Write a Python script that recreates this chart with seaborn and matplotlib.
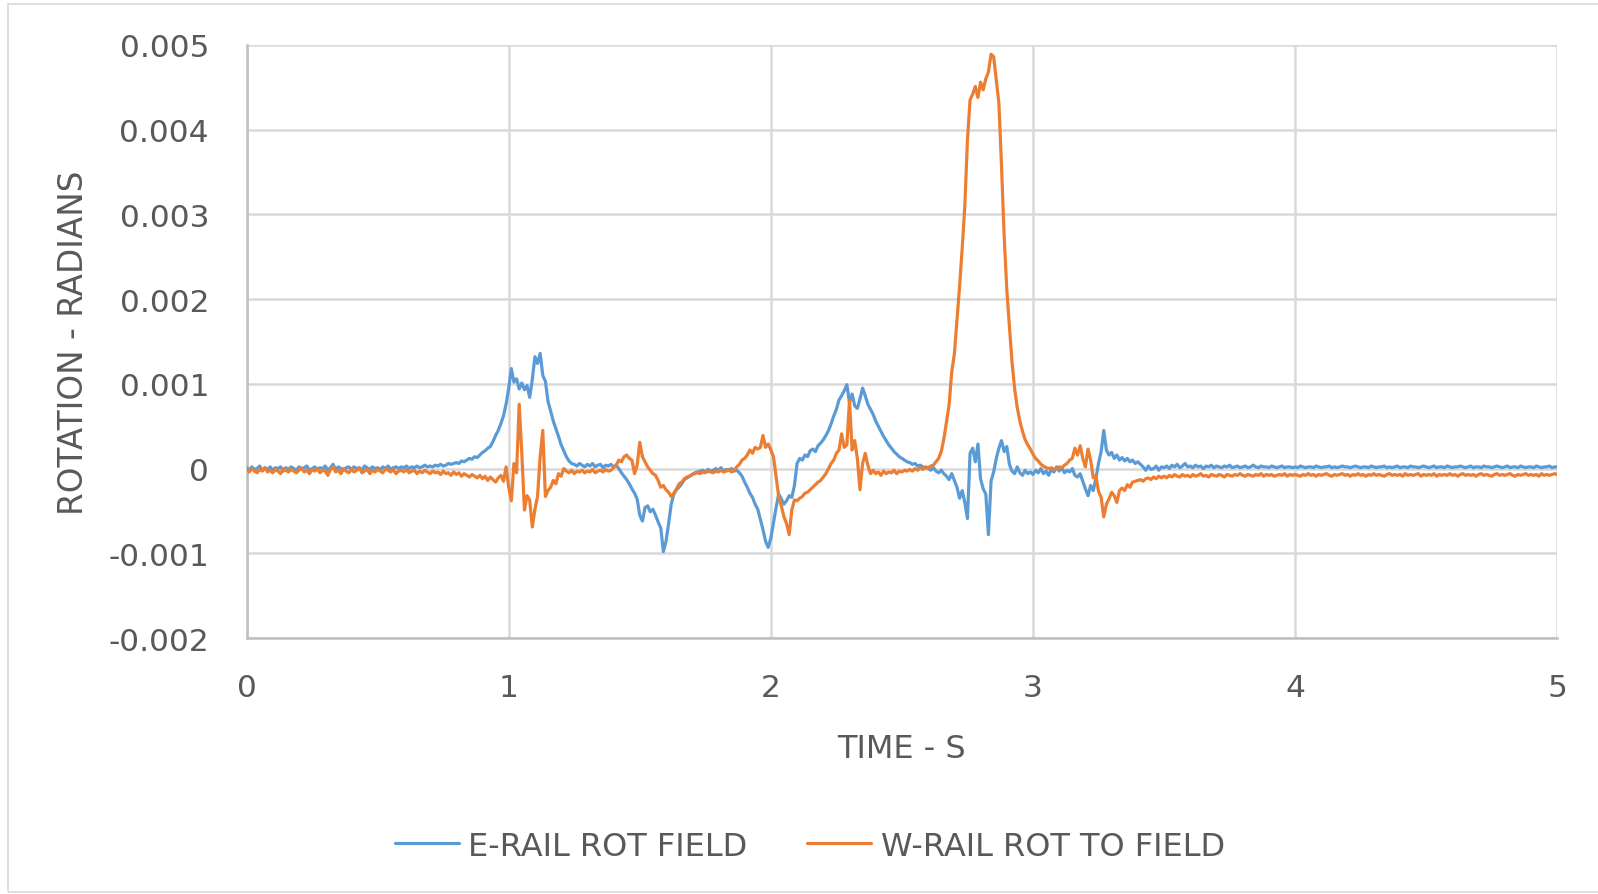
import numpy as np
import pandas as pd
import matplotlib
matplotlib.use("Agg")
import matplotlib.pyplot as plt
import seaborn as sns
from matplotlib.patches import Rectangle
from matplotlib.lines import Line2D

# ---- data (rotation in units of 1e-4 rad, sampled every 0.01 s from 0 to 5 s) ----
series_names = ["E-RAIL ROT FIELD", "W-RAIL ROT TO FIELD"]
x_ticks = [0, 1, 2, 3, 4, 5]
y_ticks = [-0.002, -0.001, 0, 0.001, 0.002, 0.003, 0.004, 0.005]
y_tick_labels = ["-0.002", "-0.001", "0", "0.001", "0.002", "0.003", "0.004", "0.005"]

e_rail = [
    0.1, -0.2, 0.2, -0.1, 0.0, 0.3, -0.2, 0.1, -0.1, 0.2,
    -0.2, 0.1, 0.0, 0.2, -0.3, 0.1, -0.1, 0.2, 0.0, -0.2,
    0.2, -0.1, 0.1, 0.3, -0.2, 0.0, 0.2, -0.1, 0.1, 0.0,
    0.3, -0.2, 0.1, 0.5, -0.1, 0.2, 0.0, -0.2, 0.1, 0.2,
    -0.1, 0.2, 0.0, 0.1, -0.2, 0.3, 0.1, -0.1, 0.2, 0.0,
    0.1, -0.1, 0.2, 0.0, 0.3, -0.1, 0.1, 0.2, 0.0, 0.2,
    0.1, 0.3, 0.0, 0.2, 0.1, 0.3, 0.1, 0.2, 0.4, 0.2,
    0.3, 0.2, 0.4, 0.3, 0.5, 0.3, 0.4, 0.6, 0.5, 0.6,
    0.7, 0.6, 0.9, 0.8, 1.0, 1.2, 1.1, 1.4, 1.3, 1.6,
    1.9, 2.1, 2.4, 2.6, 3.2, 3.9, 4.5, 5.3, 6.2, 7.6,
    9.5, 11.8, 10.2, 10.6, 9.4, 10.1, 9.3, 9.8, 8.4, 10.5,
    13.2, 12.4, 13.6, 11.0, 10.3, 7.9, 6.8, 5.6, 4.7, 3.8,
    2.8, 2.1, 1.4, 0.9, 0.6, 0.5, 0.3, 0.6, 0.4, 0.2,
    0.5, 0.3, 0.6, 0.2, 0.4, 0.5, 0.1, 0.4, 0.3, 0.5,
    0.2, 0.4, 0.0, -0.5, -0.9, -1.3, -1.8, -2.4, -2.9, -3.6,
    -5.5, -6.2, -4.6, -4.4, -5.1, -4.8, -5.5, -6.3, -7.0, -9.8,
    -8.6, -6.5, -4.2, -3.0, -2.5, -2.2, -1.8, -1.3, -1.1, -0.9,
    -0.7, -0.5, -0.4, -0.3, -0.2, -0.4, -0.1, -0.3, -0.2, 0.0,
    -0.2, 0.1, -0.3, -0.1, -0.2, 0.0, -0.3, -0.2, -0.5, -0.9,
    -1.6, -2.2, -2.9, -3.4, -4.2, -4.8, -6.0, -7.2, -8.6, -9.3,
    -8.2, -6.4, -4.6, -3.0, -3.6, -4.2, -3.8, -3.2, -3.4, -2.0,
    0.6, 1.2, 1.0, 1.6, 1.4, 2.1, 2.3, 2.0, 2.7, 3.0,
    3.4, 3.9, 4.5, 5.3, 6.2, 7.0, 8.1, 8.6, 9.2, 9.9,
    7.8, 8.8, 7.4, 7.1, 8.2, 9.5, 8.6, 7.6, 7.0, 6.4,
    5.6, 5.0, 4.4, 3.8, 3.3, 2.8, 2.4, 2.0, 1.7, 1.4,
    1.2, 1.0, 0.8, 0.7, 0.5, 0.6, 0.3, 0.4, 0.2, 0.1,
    0.0, -0.2, 0.1, -0.3, -0.5, -0.2, -0.6, -0.9, -1.3, -0.6,
    -1.4, -2.2, -3.5, -2.6, -4.0, -5.9, 1.8, 2.4, 0.8, 2.9,
    -1.2, -2.4, -3.0, -7.8, -1.5, -0.4, 1.2, 2.4, 3.3, 2.0,
    2.6, 0.5, -0.3, -0.6, 0.2, -0.5, -0.8, -0.2, -0.6, -0.4,
    -0.7, -0.2, -0.5, 0.0, -0.6, -0.3, -0.8, -0.1, -0.4, 0.2,
    -0.3, 0.1, -0.5, -0.2, -0.4, 0.0, -0.8, -1.0, -0.6, -1.5,
    -2.4, -3.2, -2.0, -2.6, -1.2, 0.6, 2.0, 4.5, 2.2, 1.6,
    1.9, 1.2, 1.6, 1.0, 1.3, 0.9, 1.2, 0.8, 1.0, 0.6,
    0.8, 0.5, 0.2, -0.2, 0.3, -0.1, 0.0, 0.3, -0.2, 0.2,
    0.1, 0.3, 0.0, 0.4, 0.2, 0.5, 0.1, 0.3, 0.6, 0.2,
    0.3, 0.1, 0.4, 0.2, 0.3, 0.0, 0.3, 0.2, 0.4, 0.1,
    0.3, 0.2, 0.1, 0.3, 0.2, 0.4, 0.1, 0.2, 0.3, 0.1,
    0.2, 0.3, 0.1, 0.2, 0.4, 0.2, 0.1, 0.3, 0.2, 0.2,
    0.1, 0.3, 0.2, 0.1, 0.2, 0.3, 0.1, 0.2, 0.2, 0.1,
    0.2, 0.1, 0.3, 0.2, 0.1, 0.2, 0.2, 0.1, 0.3, 0.2,
    0.1, 0.2, 0.2, 0.3, 0.1, 0.2, 0.1, 0.2, 0.3, 0.2,
    0.2, 0.1, 0.2, 0.3, 0.2, 0.1, 0.2, 0.2, 0.1, 0.3,
    0.2, 0.1, 0.2, 0.2, 0.3, 0.1, 0.2, 0.1, 0.2, 0.3,
    0.1, 0.2, 0.2, 0.1, 0.3, 0.2, 0.2, 0.1, 0.2, 0.3,
    0.2, 0.1, 0.2, 0.3, 0.1, 0.2, 0.2, 0.1, 0.3, 0.2,
    0.1, 0.2, 0.2, 0.3, 0.2, 0.1, 0.2, 0.3, 0.1, 0.2,
    0.2, 0.1, 0.3, 0.2, 0.2, 0.1, 0.2, 0.3, 0.2, 0.1,
    0.2, 0.3, 0.1, 0.2, 0.2, 0.1, 0.3, 0.2, 0.1, 0.2,
    0.2, 0.1, 0.3, 0.2, 0.1, 0.2, 0.2, 0.3, 0.1, 0.2, 0.2,
]

w_rail = [
    -0.1, -0.4, 0.0, -0.3, -0.5, -0.1, -0.3, 0.1, -0.4, -0.2,
    -0.5, -0.1, -0.3, -0.6, 0.0, -0.2, -0.4, -0.1, -0.3, -0.5,
    -0.2, 0.1, -0.4, -0.2, -0.6, -0.1, -0.3, 0.0, -0.5, -0.2,
    -0.3, -0.8, -0.1, 0.2, -0.4, -0.2, -0.6, 0.0, -0.3, -0.5,
    -0.1, -0.4, -0.2, 0.1, -0.5, -0.3, -0.1, -0.6, -0.2, -0.4,
    -0.1, -0.3, -0.5, 0.0, -0.2, -0.4, -0.1, -0.6, -0.3, -0.2,
    -0.4, -0.1, -0.5, -0.3, -0.2, -0.6, -0.3, -0.5, -0.2, -0.4,
    -0.6, -0.3, -0.5, -0.4, -0.7, -0.3, -0.6, -0.5, -0.8, -0.4,
    -0.7, -0.5, -0.9, -0.6, -0.8, -1.0, -0.7, -0.9, -1.1, -0.8,
    -1.2, -0.9, -1.4, -1.0, -1.3, -1.6, -1.1, -0.8, -1.5, 0.2,
    -2.2, -3.8, 0.6, -0.5, 7.6, 1.8, -4.9, -3.2, -3.7, -6.9,
    -4.8, -3.3, 1.4, 4.5, -3.3, -2.6, -2.2, -1.4, -1.8, -0.6,
    -0.9, 0.0, -0.3, -0.5, -0.2, -0.6, -0.3, -0.4, -0.2, -0.5,
    -0.3, -0.4, -0.1, -0.5, -0.3, -0.2, -0.4, -0.1, -0.3, -0.2,
    0.1, 0.4, 1.0, 0.8, 1.4, 1.6, 1.2, 1.0, -0.6, 0.4,
    3.1, 1.4, 0.8, 0.2, -0.2, -0.6, -0.8, -1.4, -2.2, -2.0,
    -2.5, -2.8, -3.3, -2.9, -2.4, -1.8, -1.6, -1.2, -1.0, -0.9,
    -0.7, -0.6, -0.5, -0.6, -0.4, -0.5, -0.3, -0.4, -0.5, -0.3,
    -0.4, -0.2, -0.4, -0.3, -0.1, -0.4, -0.2, 0.2, 0.5, 1.0,
    1.2, 1.6, 2.2, 1.8, 2.5, 2.3, 2.5, 3.9, 2.5, 2.9,
    2.2, 1.4, -1.0, -3.3, -4.4, -5.7, -6.5, -7.8, -4.9, -3.7,
    -3.8, -3.5, -3.3, -2.9, -2.8, -2.5, -2.2, -1.9, -1.6, -1.4,
    -1.0, -0.6, 0.0, 0.6, 1.0, 1.8, 2.2, 4.1, 2.5, 2.8,
    8.0, 2.2, 3.3, 1.2, -2.5, 0.6, 1.8, 0.4, -0.6, -0.2,
    -0.6, -0.4, -0.8, -0.3, -0.6, -0.4, -0.5, -0.2, -0.6, -0.3,
    -0.4, -0.2, -0.3, -0.1, -0.3, 0.0, -0.2, 0.1, -0.1, 0.2,
    0.1, 0.3, 0.4, 0.8, 1.2, 2.0, 3.5, 5.5, 7.5, 11.4,
    13.5, 17.5, 21.5, 26.0, 31.0, 38.8, 43.5, 44.2, 45.1, 43.8,
    45.6, 44.7, 46.0, 46.8, 48.9, 48.6, 45.9, 43.1, 35.7, 27.5,
    21.2, 16.8, 12.6, 9.4, 7.2, 5.6, 4.4, 3.4, 2.8, 2.3,
    1.7, 1.2, 0.9, 0.5, 0.3, 0.1, 0.0, 0.1, -0.1, 0.0,
    0.2, 0.1, 0.4, 0.6, 1.0, 1.2, 2.4, 1.6, 2.7, 1.2,
    0.2, 2.3, 1.0, -1.1, -0.8, -2.7, -3.4, -5.7, -4.2, -3.6,
    -2.8, -3.2, -4.0, -2.6, -2.3, -2.6, -1.9, -2.2, -1.6, -1.5,
    -1.4, -1.3, -1.5, -1.2, -1.1, -1.3, -1.0, -1.2, -0.9, -1.1,
    -0.9, -1.1, -0.8, -1.0, -0.7, -0.9, -1.0, -0.7, -0.9, -0.8,
    -1.0, -0.7, -0.9, -0.8, -0.6, -0.9, -0.8, -1.0, -0.7, -0.8,
    -0.9, -0.7, -0.8, -1.0, -0.7, -0.8, -0.9, -0.7, -0.8, -0.6,
    -0.8, -0.9, -0.7, -0.8, -0.9, -0.7, -0.8, -0.6, -0.9, -0.7,
    -0.8, -0.7, -0.9, -0.8, -0.7, -0.8, -0.6, -0.9, -0.7, -0.8,
    -0.7, -0.8, -0.9, -0.7, -0.8, -0.6, -0.8, -0.7, -0.9, -0.7,
    -0.8, -0.7, -0.6, -0.8, -0.9, -0.7, -0.8, -0.7, -0.6, -0.8,
    -0.7, -0.9, -0.7, -0.8, -0.6, -0.8, -0.7, -0.9, -0.7, -0.8,
    -0.6, -0.8, -0.7, -0.8, -0.9, -0.7, -0.6, -0.8, -0.7, -0.8,
    -0.7, -0.9, -0.6, -0.8, -0.7, -0.8, -0.7, -0.6, -0.9, -0.7,
    -0.8, -0.7, -0.8, -0.6, -0.9, -0.7, -0.8, -0.7, -0.8, -0.6,
    -0.8, -0.7, -0.9, -0.7, -0.6, -0.8, -0.7, -0.8, -0.7, -0.9,
    -0.7, -0.6, -0.8, -0.7, -0.8, -0.9, -0.7, -0.6, -0.8, -0.7,
    -0.8, -0.7, -0.6, -0.8, -0.9, -0.7, -0.8, -0.7, -0.6, -0.8,
    -0.7, -0.8, -0.7, -0.9, -0.6, -0.8, -0.7, -0.8, -0.7, -0.6, -0.7,
]

df = pd.DataFrame({
    "time": np.concatenate([np.round(np.arange(len(e_rail)) * 0.01, 2),
                            np.round(np.arange(len(w_rail)) * 0.01, 2)]),
    "rot": np.concatenate([np.array(e_rail), np.array(w_rail)]) * 1e-4,
    "series": [series_names[0]] * len(e_rail) + [series_names[1]] * len(w_rail),
})

# ---- style ----
sns.set_theme(style="white")
plt.rcParams["font.family"] = ["DejaVu Sans"]
text_color = "#595959"
grid_color = "#d9d9d9"
colors = ["#5B9BD5", "#ED7D31"]

fig = plt.figure(figsize=(15.98, 8.95), dpi=100)
ax = fig.add_axes([0.1543, 0.286, 0.8202, 0.6627])

sns.lineplot(data=df, x="time", y="rot", hue="series", hue_order=series_names,
             palette=colors, linewidth=2.3, ax=ax,
             estimator=None, sort=False, legend=False, zorder=3)

ax.set_xlim(0, 5)
ax.set_ylim(-0.002, 0.005)
ax.set_xticks(x_ticks)
ax.set_xticklabels([str(v) for v in x_ticks])
ax.set_yticks(y_ticks)
ax.set_yticklabels(y_tick_labels)
ax.grid(True, color=grid_color, linewidth=1.8, zorder=0)
ax.set_axisbelow(True)
for side in ["top", "right"]:
    ax.spines[side].set_visible(False)
for side in ["left", "bottom"]:
    ax.spines[side].set_color("#bfbfbf")
    ax.spines[side].set_linewidth(1.8)

ax.tick_params(axis="both", length=0, labelsize=22.5, colors=text_color)
ax.tick_params(axis="y", pad=27)
ax.tick_params(axis="x", pad=25)

ax.set_xlabel("TIME - S", fontsize=23, color=text_color, va="center")
ax.set_ylabel("ROTATION - RADIANS", fontsize=23.5, color=text_color, va="center")
ax.xaxis.set_label_coords(0.5, -0.1855)
ax.yaxis.set_label_coords(-0.1317, 0.5)

handles = [Line2D([0], [0], color=colors[0], lw=2.3),
           Line2D([0], [0], color=colors[1], lw=2.3)]
fig.legend(handles, series_names, loc="center", bbox_to_anchor=(0.5067, 0.0536),
           ncol=2, frameon=False, fontsize=23, labelcolor=text_color,
           handlelength=2.0, columnspacing=1.85, handletextpad=0.31)

fig.patches.append(Rectangle((8 / 1598, 2 / 895), 1.0, 888 / 895,
                             transform=fig.transFigure, fill=False,
                             edgecolor="#d9d9d9", linewidth=1.2))

fig.savefig("out.png", dpi=100)
